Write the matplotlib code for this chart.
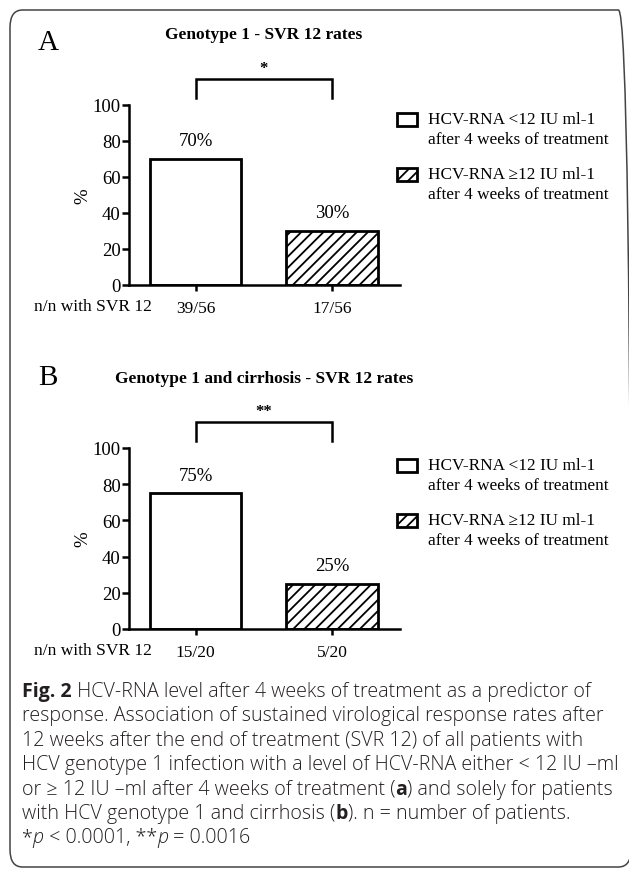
import matplotlib.pyplot as plt
from matplotlib.patches import Rectangle, FancyBboxPatch

# data
group_line1 = ["HCV-RNA <12 IU ml-1", "HCV-RNA \u226512 IU ml-1"]
group_line2 = ["after 4 weeks of treatment", "after 4 weeks of treatment"]
rates_a = [70, 30]
counts_a = ["39/56", "17/56"]
rates_b = [75, 25]
counts_b = ["15/20", "5/20"]
titles = ["Genotype 1 - SVR 12 rates", "Genotype 1 and cirrhosis - SVR 12 rates"]
letters = ["A", "B"]
stars = ["*", "**"]
yticks = [0, 20, 40, 60, 80, 100]
hatches = [None, "///"]

plt.rcParams["hatch.linewidth"] = 1.3
serif = "Liberation Serif"

fig = plt.figure(figsize=(6.29, 8.70), dpi=100)
W, H = 629.0, 870.0


def fx(px):
    return px / W


def fy(py):
    return 1 - py / H


# outer rounded frame (right side runs off the page)
frame = FancyBboxPatch((fx(10), fy(868)), fx(631) - fx(10), fy(11) - fy(868),
                       boxstyle="round,pad=0,rounding_size=0.02",
                       transform=fig.transFigure, fill=False, ec="#444444", lw=1.1)
fig.patches.append(frame)

panels = [
    (rates_a, counts_a, 286, 106, 35, 43, 120),
    (rates_b, counts_b, 630, 449, 379, 378, 466),
]

for i, (rates, counts, y0, y100, ty, ly, legy) in enumerate(panels):
    ax = fig.add_axes([fx(129), fy(y0), fx(400) - fx(129), fy(y100) - fy(y0)])
    x = [0, 1]
    for xi, v, h in zip(x, rates, hatches):
        ax.bar(xi, v, width=0.67, color="white", edgecolor="black", lw=2, hatch=h)
    ax.set_xlim(-0.49, 1.5)
    ax.set_ylim(0, 100)
    ax.set_yticks(yticks)
    ax.set_yticklabels([str(t) for t in yticks], fontfamily=serif, fontsize=13.5)
    ax.set_xticks(x)
    ax.set_xticklabels(counts, fontfamily=serif, fontsize=12.5)
    ax.tick_params(axis="y", length=5, width=1.8, pad=1)
    ax.tick_params(axis="x", length=4, width=1.8, pad=7)
    for s in ["top", "right"]:
        ax.spines[s].set_visible(False)
    for s in ["left", "bottom"]:
        ax.spines[s].set_linewidth(1.8)
    ax.set_ylabel("%", fontfamily=serif, fontsize=13.5, labelpad=1)

    for xi, v in zip(x, rates):
        ax.text(xi, v + 10, f"{v}%", ha="center", va="center",
                fontfamily=serif, fontsize=13.5)

    # significance bracket
    ax.plot([0, 0, 1, 1], [104, 114.2, 114.2, 104], color="black", lw=1.8,
            clip_on=False, solid_joinstyle="miter")
    ax.text(0.5, 120.5, stars[i], ha="center", va="center",
            fontfamily=serif, fontsize=12, fontweight="bold")

    ax.text(-0.325, -0.118, "n/n with SVR 12", transform=ax.get_xaxis_transform(),
            ha="right", va="center", fontfamily=serif, fontsize=12.5)

    # legend: box beside the first line of each two-line label
    for j in range(2):
        yc = legy + 55 * j
        fig.patches.append(Rectangle((fx(397), fy(yc + 6.5)), fx(20), 13 / H,
                                     transform=fig.transFigure, facecolor="white",
                                     edgecolor="black", lw=2, hatch=hatches[j]))
        fig.text(fx(428), fy(yc), group_line1[j], ha="left", va="center",
                 fontfamily=serif, fontsize=12.4)
        fig.text(fx(428), fy(yc + 20), group_line2[j], ha="left", va="center",
                 fontfamily=serif, fontsize=12.4)

    fig.text(fx(264), fy(ty), titles[i], ha="center", va="center",
             fontfamily=serif, fontsize=12.5, fontweight="bold")
    fig.text(fx(48), fy(ly), letters[i], ha="center", va="center",
             fontfamily=serif, fontsize=21)

# caption, drawn piece by piece so bold / italic runs sit inline
cap_font = ["Open Sans", "DejaVu Sans"]
cap_size = 14.1
cap_color = "#231f20"
caption = [
    [("Fig. 2", "bold", "normal"), (" HCV-RNA level after 4 weeks of treatment as a predictor of", "light", "normal")],
    [("response. Association of sustained virological response rates after", "light", "normal")],
    [("12 weeks after the end of treatment (SVR 12) of all patients with", "light", "normal")],
    [("HCV genotype 1 infection with a level of HCV-RNA either < 12 IU \u2013ml", "light", "normal")],
    [("or \u2265 12 IU \u2013ml after 4 weeks of treatment (", "light", "normal"), ("a", "bold", "normal"),
     (") and solely for patients", "light", "normal")],
    [("with HCV genotype 1 and cirrhosis (", "light", "normal"), ("b", "bold", "normal"),
     ("). n = number of patients.", "light", "normal")],
    [("*", "light", "normal"), ("p", "light", "italic"), (" < 0.0001, **", "light", "normal"),
     ("p", "light", "italic"), (" = 0.0016", "light", "normal")],
]
renderer = fig.canvas.get_renderer()
line_y0, line_dy = 692, 24.4
for k, pieces in enumerate(caption):
    xpos = 22.0
    for txt, weight, style in pieces:
        t = fig.text(fx(xpos), fy(line_y0 + k * line_dy), txt, ha="left", va="center",
                     fontfamily=cap_font, fontsize=cap_size, fontweight=weight,
                     fontstyle=style, color=cap_color)
        bb = t.get_window_extent(renderer)
        xpos += bb.width

fig.savefig("out.png", dpi=100)
